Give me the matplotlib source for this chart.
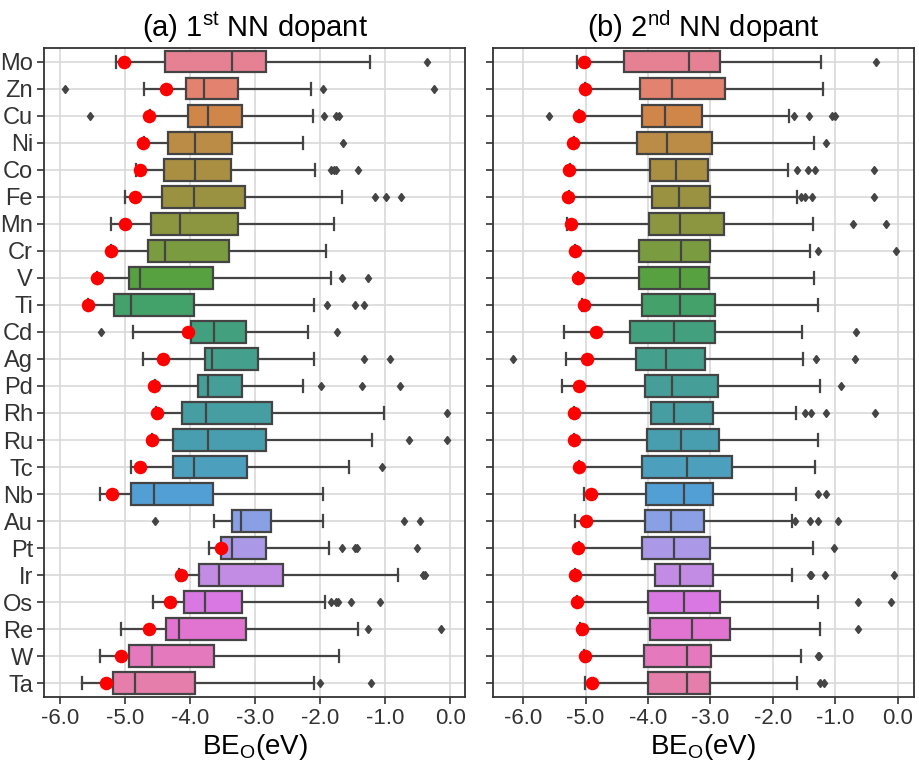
import numpy as np
import matplotlib
matplotlib.use('Agg')
import matplotlib.pyplot as plt
import seaborn as sns

plt.rcParams['font.family'] = ['Liberation Sans', 'DejaVu Sans']
plt.rcParams['mathtext.fontset'] = 'custom'
plt.rcParams['mathtext.rm'] = 'Liberation Sans'
plt.rcParams['axes.unicode_minus'] = False

elements = ['Mo', 'Zn', 'Cu', 'Ni', 'Co', 'Fe', 'Mn', 'Cr', 'V', 'Ti', 'Cd', 'Ag',
            'Pd', 'Rh', 'Ru', 'Tc', 'Nb', 'Au', 'Pt', 'Ir', 'Os', 'Re', 'W', 'Ta']

# (a) 1st NN dopant : box statistics
lo_a = [-5.14, -4.71, -4.62, -4.71, -4.84, -5.01, -5.22, -5.22, -5.43, -5.58, -4.88, -4.73,
        -4.55, -4.52, -4.59, -4.92, -5.39, -3.63, -3.71, -4.18, -4.58, -5.07, -5.39, -5.66]
q1_a = [-4.39, -4.06, -4.03, -4.35, -4.40, -4.44, -4.60, -4.65, -4.94, -5.17, -3.99, -3.78,
        -3.88, -4.12, -4.26, -4.27, -4.92, -3.36, -3.52, -3.86, -4.10, -4.37, -4.94, -5.19]
med_a = [-3.36, -3.79, -3.73, -3.93, -3.92, -3.94, -4.16, -4.39, -4.77, -4.92, -3.64, -3.66,
         -3.72, -3.76, -3.72, -3.94, -4.56, -3.22, -3.36, -3.55, -3.78, -4.17, -4.59, -4.85]
q3_a = [-2.83, -3.27, -3.20, -3.36, -3.38, -3.16, -3.27, -3.40, -3.65, -3.94, -3.14, -2.96,
        -3.21, -2.74, -2.84, -3.13, -3.65, -2.75, -2.84, -2.57, -3.21, -3.14, -3.64, -3.93]
hi_a = [-1.23, -2.14, -2.11, -2.26, -2.08, -1.67, -1.79, -1.91, -1.84, -2.10, -2.19, -2.10,
        -2.26, -1.01, -1.20, -1.55, -1.95, -1.96, -1.86, -0.80, -1.93, -1.41, -1.71, -2.10]
fliers_a = [[-0.36], [-5.93, -1.95, -0.25], [-5.54, -1.94, -1.76, -1.71], [-1.65],
            [-1.84, -1.78, -1.76, -1.42], [-1.15, -0.99, -0.75], [], [], [-1.66, -1.26],
            [-1.90, -1.47, -1.32], [-5.37, -1.74], [-1.32, -0.93], [-1.98, -1.36, -0.77],
            [-0.04], [-0.63, -0.05], [-1.05], [], [-4.55, -0.71, -0.46],
            [-1.67, -1.47, -1.44, -0.51], [-0.42, -0.38], [-1.83, -1.76, -1.72, -1.53, -1.08],
            [-1.27, -0.14], [], [-2.00, -1.22]]
dot_a = [-5.02, -4.37, -4.63, -4.73, -4.77, -4.85, -5.00, -5.22, -5.44, -5.57, -4.04, -4.42,
         -4.56, -4.51, -4.59, -4.77, -5.20, np.nan, -3.53, -4.14, -4.31, -4.64, -5.06, -5.30]

# (b) 2nd NN dopant
lo_b = [-5.14, -5.01, -5.10, -5.19, -5.25, -5.27, -5.30, -5.17, -5.12, -5.06, -5.35, -5.31,
        -5.37, -5.18, -5.18, -5.10, -5.02, -5.17, -5.10, -5.17, -5.14, -5.09, -5.03, -5.01]
q1_b = [-4.39, -4.12, -4.09, -4.17, -3.96, -3.94, -3.99, -4.14, -4.14, -4.10, -4.28, -4.19,
        -4.04, -3.95, -4.02, -4.09, -4.03, -4.04, -4.09, -3.88, -4.00, -3.96, -4.07, -4.00]
med_b = [-3.34, -3.61, -3.72, -3.69, -3.55, -3.50, -3.48, -3.47, -3.49, -3.48, -3.58, -3.71,
         -3.62, -3.58, -3.47, -3.38, -3.43, -3.63, -3.59, -3.49, -3.43, -3.30, -3.37, -3.38]
q3_b = [-2.84, -2.77, -3.14, -2.98, -3.03, -3.00, -2.78, -3.01, -3.02, -2.92, -2.93, -3.09,
        -2.88, -2.96, -2.86, -2.65, -2.96, -3.10, -3.00, -2.96, -2.84, -2.68, -2.99, -3.01]
hi_b = [-1.22, -1.20, -1.74, -1.34, -1.75, -1.61, -1.35, -1.40, -1.34, -1.27, -1.53, -1.51,
        -1.24, -1.63, -1.27, -1.32, -1.63, -1.69, -1.35, -1.69, -1.27, -1.25, -1.55, -1.61]
fliers_b = [[-0.35], [], [-5.59, -1.66, -1.42, -1.05, -1.01], [-1.15],
            [-1.61, -1.43, -1.32, -0.38], [-1.55, -1.49, -1.37, -0.37], [-0.71, -0.18],
            [-1.28, -0.03], [], [], [-0.67], [-6.16, -1.30, -0.69], [-0.91],
            [-1.49, -1.38, -1.15, -0.36], [], [], [-1.27, -1.15], [-1.64, -1.40, -1.28, -0.96],
            [-1.02], [-1.41, -1.39, -1.17, -0.05], [-0.64, -0.11], [-0.64], [-1.28, -1.26],
            [-1.25, -1.18]]
dot_b = [-5.03, -5.01, -5.11, -5.20, -5.26, -5.28, -5.24, -5.17, -5.12, -5.03, -4.83, -4.98,
         -5.11, -5.18, -5.18, -5.10, -4.91, -4.99, -5.12, -5.17, -5.14, -5.06, -5.01, -4.90]

titles = ['(a) 1$^{\\mathrm{st}}$ NN dopant', '(b) 2$^{\\mathrm{nd}}$ NN dopant']

pal = [sns.desaturate(c, 0.75) for c in sns.color_palette('husl', len(elements))]
edge = '#444444'

fig = plt.figure(figsize=(9.19, 7.64), dpi=100)
ax1 = fig.add_axes([0.048, 0.088, 0.458, 0.849])
ax2 = fig.add_axes([0.536, 0.088, 0.459, 0.849])


def draw(ax, lo, q1, med, q3, hi, fl, dots, xlim, title):
    stats = []
    for i in range(len(elements)):
        stats.append(dict(whislo=lo[i], q1=q1[i], med=med[i], q3=q3[i],
                          whishi=hi[i], fliers=fl[i]))
    pos = np.arange(len(elements))
    bp = ax.bxp(stats, positions=pos, vert=False, widths=0.8, patch_artist=True,
                capwidths=0.45, showfliers=True,
                boxprops=dict(edgecolor=edge, linewidth=1.6),
                medianprops=dict(color=edge, linewidth=1.6),
                whiskerprops=dict(color=edge, linewidth=1.6),
                capprops=dict(color=edge, linewidth=1.6),
                flierprops=dict(marker='d', markersize=4.5, markerfacecolor=edge,
                                markeredgecolor=edge, linestyle='none'))
    for patch, c in zip(bp['boxes'], pal):
        patch.set_facecolor(c)
    ax.scatter(dots, pos, s=95, color='red', zorder=5, linewidths=0)
    ax.set_ylim(len(elements) - 0.5, -0.5)
    ax.set_xlim(*xlim)
    ax.set_xticks(np.arange(-6, 0.01, 1.0))
    ax.set_xticklabels(['%.1f' % v for v in np.arange(-6, 0.01, 1.0)], fontsize=16)
    ax.set_xlabel('BE$_\\mathrm{O}$(eV)', fontsize=20, labelpad=2)
    ax.set_title(title, fontsize=21, pad=8)
    ax.grid(True, color='#d9d9d9', linewidth=1.2)
    ax.set_axisbelow(True)
    for s in ax.spines.values():
        s.set_color('#333333')
        s.set_linewidth(1.3)
    ax.tick_params(axis='both', direction='out', length=5, width=1.2, color='#333333',
                   labelcolor='#333333', pad=3)


draw(ax1, lo_a, q1_a, med_a, q3_a, hi_a, fliers_a, dot_a, (-6.25, 0.23), titles[0])
draw(ax2, lo_b, q1_b, med_b, q3_b, hi_b, fliers_b, dot_b, (-6.49, 0.27), titles[1])
ax1.set_yticks(np.arange(len(elements)))
ax1.set_yticklabels(elements, fontsize=17)
ax2.set_yticks(np.arange(len(elements)))
ax2.set_yticklabels([])

fig.savefig('out.png', dpi=100)
